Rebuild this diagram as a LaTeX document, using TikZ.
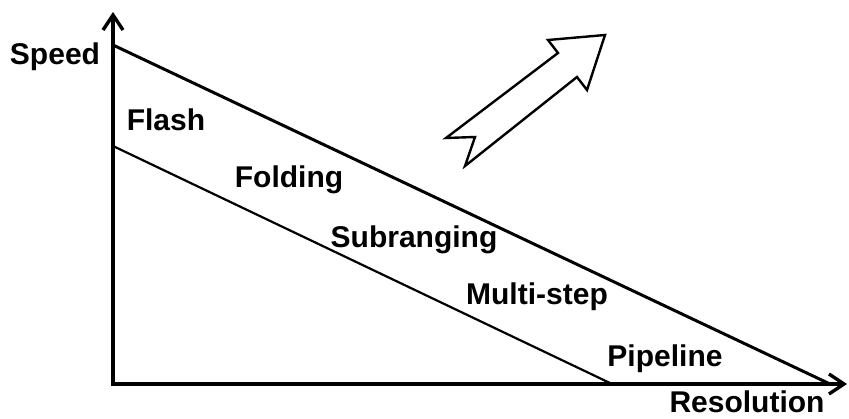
\documentclass[tikz,border=0pt]{standalone}
\usepackage{fontspec}
\setmainfont{Liberation Sans}
\usetikzlibrary{arrows.meta}

\begin{document}
\begin{tikzpicture}[
  x=1pt,y=-1pt,
  axis/.style={line width=3.6pt,-{Straight Barb[length=15pt,width=20pt,line width=3.4pt]}},
  bound/.style={line width=3pt},
  lowbound/.style={line width=2.2pt},
  lbl/.style={anchor=base,inner sep=0pt,font=\fontsize{30}{36}\selectfont\bfseries},
  hollow/.style={draw,line width=2.4pt,fill=white,line join=miter}
]
  \useasboundingbox (0,0) rectangle (849,419);
  % axes
  \coordinate (origin) at (113,384);
  \coordinate (ytip) at (113,12);
  \coordinate (xtip) at (847,384);
  \draw[axis] ([yshift=-1.8pt]origin) -- (ytip);
  \draw[axis] ([xshift=-1.8pt]origin) -- (xtip);
  \node[lbl] (speed) at (55,65) {Speed};
  \node[lbl] (resolution) at (747,413) {Resolution};
  % trade-off lines
  \coordinate (fasttop) at (113,45);
  \coordinate (fastend) at (830,384);
  \coordinate (slowtop) at (113,146);
  \coordinate (slowend) at (612,384);
  \draw[bound] (fasttop) -- (fastend);
  \draw[lowbound] (slowtop) -- (slowend);
  % architectures
  \node[lbl] (flash) at (166,131) {Flash};
  \node[lbl] (folding) at (289,188) {Folding};
  \node[lbl] (subranging) at (414,248) {Subranging};
  \node[lbl] (multistep) at (537,305) {Multi-step};
  \node[lbl] (pipeline) at (665,367) {Pipeline};
  % direction of improvement
  \draw[hollow] (446,138) -- (558,53) -- (548,40) -- (605,35) -- (587,90)
    -- (577,77) -- (465,166) -- (475,137) -- cycle;
\end{tikzpicture}
\end{document}
